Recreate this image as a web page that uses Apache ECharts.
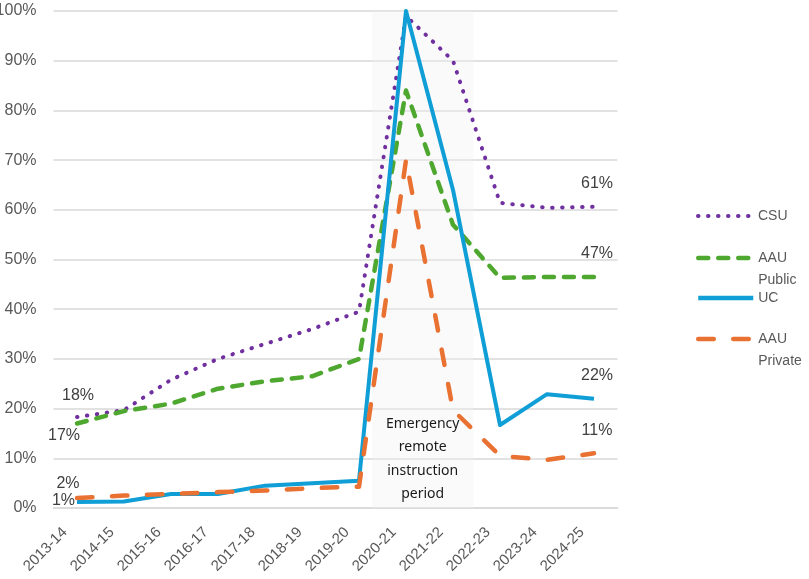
<!DOCTYPE html>
<html>
<head>
<meta charset="utf-8">
<script src="https://cdn.jsdelivr.net/npm/echarts@6/dist/echarts.min.js"></script>
<style>
  html, body { margin: 0; padding: 0; background: #fff; }
  #chart { width: 809px; height: 579px; }
</style>
</head>
<body>
<div id="chart"></div>
<script>
// school years on the x axis
const years = ['2013-14', '2014-15', '2015-16', '2016-17', '2017-18', '2018-19',
  '2019-20', '2020-21', '2021-22', '2022-23', '2023-24', '2024-25']

// share (%) per system
const csu = [18.3, 19.7, 25.8, 30, 33, 36, 39.5, 99, 90, 61.4, 60.4, 60.6]
const aauPublic = [17, 19.5, 21, 24, 25.5, 26.5, 30, 84, 57, 46.3, 46.5, 46.5]
const uc = [1.2, 1.3, 2.8, 2.8, 4.5, 5, 5.5, 100, 64, 16.7, 22.9, 22]
const aauPrivate = [2, 2.5, 2.8, 3.2, 3.5, 4, 4.3, 70, 19.7, 10.5, 9.7, 11]

const yTicks = [0, 10, 20, 30, 40, 50, 60, 70, 80, 90, 100]

const chart = echarts.init(document.getElementById('chart'))

const pct = p => Math.round(p.value) + '%'
const labelFont = { fontSize: 16, color: '#404040', fontFamily: 'Liberation Sans, Arial, sans-serif' }

// only first and last point get a label
function withEnds(values, startLabel, endLabel) {
  return values.map((v, i) => {
    if (i === 0 && startLabel) return { value: v, label: Object.assign({ show: true, formatter: pct }, labelFont, startLabel) }
    if (i === values.length - 1) return { value: v, label: Object.assign({ show: true, formatter: pct }, labelFont, endLabel) }
    return v
  })
}

const endLabel = { position: 'top', distance: 15, offset: [3, 0] }

const legendBase = {
  left: 696,
  orient: 'vertical',
  padding: 0,
  itemWidth: 55,
  itemHeight: 14,
  itemStyle: { opacity: 0 },
  textStyle: { fontSize: 14, color: '#595959', lineHeight: 22, fontFamily: 'Liberation Sans, Arial, sans-serif' }
}

chart.setOption({
  animation: false,
  grid: { left: 53.5, right: 191.5, top: 11, bottom: 71, outerBoundsMode: 'none' },
  legend: [
    Object.assign({}, legendBase, { top: 205, data: ['CSU'], lineStyle: { width: 4 } }),
    // empty first line keeps "AAU" level with the icon, second word below it
    Object.assign({}, legendBase, {
      top: 225, data: ['AAU Public'], lineStyle: { width: 4.5 },
      formatter: () => '\nAAU\nPublic'
    }),
    Object.assign({}, legendBase, { top: 287, data: ['UC'], lineStyle: { width: 4.5 } }),
    Object.assign({}, legendBase, {
      top: 306, data: ['AAU Private'], lineStyle: { width: 4.5 },
      formatter: () => '\nAAU\nPrivate'
    })
  ],
  xAxis: [{
    type: 'category',
    data: years,
    boundaryGap: true,
    axisLine: { lineStyle: { color: '#d9d9d9', width: 1.5 } },
    axisTick: { show: false },
    axisLabel: {
      rotate: 45,
      margin: 10,
      interval: 0,
      fontSize: 15,
      color: '#595959',
      padding: [0, 17, 0, 0],
      fontFamily: 'Liberation Sans, Arial, sans-serif'
    }
  }, {
    // hidden value axis, only used to place the shaded period between categories
    type: 'value',
    min: -0.5,
    max: 11.5,
    show: false
  }],
  yAxis: {
    type: 'value',
    min: 0,
    max: 100,
    interval: 10,
    axisLine: { show: false },
    axisTick: { show: false },
    splitLine: { lineStyle: { color: '#d9d9d9', width: 1.5 } },
    axisLabel: {
      margin: 17,
      fontSize: 16,
      color: '#595959',
      fontFamily: 'Liberation Sans, Arial, sans-serif',
      formatter: v => yTicks.indexOf(v) >= 0 ? v + '%' : ''
    }
  },
  series: [
    {
      name: 'CSU',
      type: 'line',
      symbol: 'circle',
      symbolSize: 0,
      data: withEnds(csu, { position: 'top', distance: 13, offset: [1, 0] }, endLabel),
      lineStyle: { color: '#7030a0', width: 4, type: [0.5, 9.5], cap: 'round', join: 'round' },
      itemStyle: { color: '#7030a0' }
    },
    {
      name: 'AAU Public',
      type: 'line',
      symbol: 'circle',
      symbolSize: 0,
      data: withEnds(aauPublic, { position: 'bottom', distance: 4, offset: [-13, 0] }, endLabel),
      lineStyle: { color: '#4ea72e', width: 4.5, type: [10, 10], cap: 'round', join: 'round' },
      itemStyle: { color: '#4ea72e' }
    },
    {
      name: 'UC',
      type: 'line',
      symbol: 'circle',
      symbolSize: 0,
      data: withEnds(uc, { position: 'left', distance: 2, offset: [0, -1] }, endLabel),
      lineStyle: { color: '#0f9ed5', width: 4, type: 'solid', join: 'round' },
      itemStyle: { color: '#0f9ed5' }
    },
    {
      name: 'AAU Private',
      type: 'line',
      symbol: 'circle',
      symbolSize: 0,
      data: withEnds(aauPrivate, { position: 'top', distance: 6, offset: [-9, 0] }, endLabel),
      lineStyle: { color: '#e97132', width: 4.5, type: [15.5, 19.5], cap: 'round', join: 'round' },
      itemStyle: { color: '#e97132' }
    },
    {
      // shaded emergency remote period, drawn above the lines so they look faded
      name: 'period',
      type: 'line',
      xAxisIndex: 1,
      z: 5,
      data: [],
      silent: true,
      markArea: {
        silent: true,
        itemStyle: { color: 'rgba(240,240,240,0.35)' },
        label: {
          show: true,
          position: 'insideBottom',
          distance: 2,
          formatter: 'Emergency\nremote\ninstruction\nperiod',
          fontSize: 14,
          lineHeight: 23.5,
          color: '#1a1a1a',
          fontFamily: 'Noto Sans, Lato, sans-serif'
        },
        data: [[{ xAxis: 6.28, yAxis: 0 }, { xAxis: 8.43, yAxis: 100 }]]
      }
    }
  ]
})
</script>
</body>
</html>
